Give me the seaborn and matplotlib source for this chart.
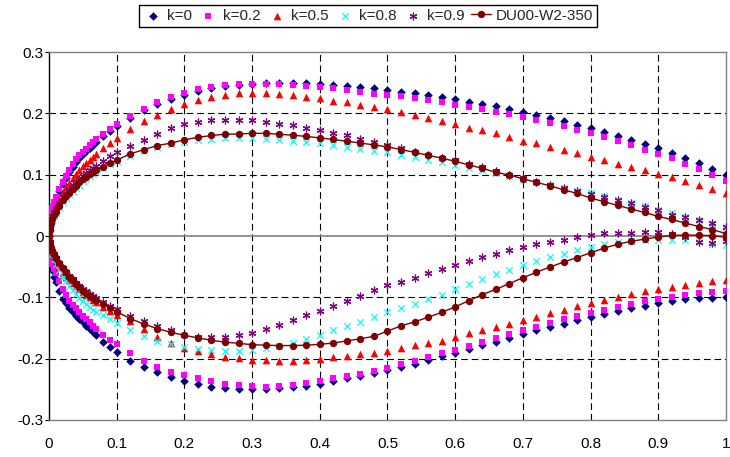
import pandas as pd
import matplotlib
matplotlib.use("Agg")
import matplotlib.pyplot as plt
import seaborn as sns

# chordwise stations (x/c), shared by every profile
x_st = [0, 0.001, 0.002, 0.0035, 0.005, 0.0075, 0.01, 0.015, 0.02, 0.025, 0.03, 0.035, 0.04,
        0.045, 0.05, 0.055, 0.06, 0.065, 0.07, 0.08, 0.09, 0.10,
        0.12, 0.14, 0.16, 0.18, 0.20, 0.22, 0.24, 0.26, 0.28, 0.30, 0.32, 0.34, 0.36,
        0.38, 0.40, 0.42, 0.44, 0.46, 0.48, 0.50, 0.52, 0.54, 0.56, 0.58, 0.60, 0.62,
        0.64, 0.66, 0.68, 0.70, 0.72, 0.74, 0.76, 0.78, 0.80, 0.82, 0.84, 0.86, 0.88,
        0.90, 0.92, 0.94, 0.96, 0.98, 1.00]

# upper surfaces (y/c)
k0_up = [0, 0.019, 0.028, 0.036, 0.043, 0.052, 0.060, 0.073, 0.085, 0.095, 0.104, 0.113, 0.121,
         0.127, 0.133, 0.1385, 0.144, 0.149, 0.154, 0.163, 0.171, 0.179,
         0.193, 0.205, 0.215, 0.223, 0.230, 0.236, 0.241, 0.2445, 0.247, 0.2485, 0.249, 0.2495, 0.2495,
         0.249, 0.248, 0.2465, 0.245, 0.243, 0.241, 0.238, 0.2355, 0.233, 0.230, 0.2265, 0.223, 0.219,
         0.2155, 0.2115, 0.207, 0.2025, 0.198, 0.193, 0.187, 0.1815, 0.176, 0.170, 0.163, 0.157, 0.150,
         0.1435, 0.135, 0.127, 0.119, 0.110, 0.100]
k02_up = [0, 0.021, 0.030, 0.038, 0.045, 0.055, 0.063, 0.076, 0.088, 0.098, 0.108, 0.117, 0.126,
          0.132, 0.137, 0.1425, 0.148, 0.153, 0.158, 0.166, 0.174, 0.182,
          0.196, 0.208, 0.218, 0.226, 0.233, 0.239, 0.2435, 0.246, 0.2476, 0.248, 0.248, 0.2475, 0.2468,
          0.2455, 0.2435, 0.241, 0.238, 0.235, 0.232, 0.2305, 0.228, 0.225, 0.2215, 0.218, 0.214, 0.210,
          0.207, 0.203, 0.199, 0.194, 0.189, 0.184, 0.179, 0.173, 0.168, 0.162, 0.155, 0.149, 0.141,
          0.134, 0.127, 0.118, 0.109, 0.100, 0.090]
k05_up = [0, 0.015, 0.022, 0.029, 0.036, 0.043, 0.050, 0.061, 0.072, 0.080, 0.087, 0.094, 0.1016,
          0.108, 0.114, 0.119, 0.124, 0.129, 0.134, 0.143, 0.152, 0.1595,
          0.175, 0.187, 0.197, 0.207, 0.215, 0.222, 0.227, 0.2303, 0.2325, 0.233, 0.2328, 0.2318, 0.230,
          0.227, 0.2248, 0.221, 0.218, 0.214, 0.2105, 0.2065, 0.202, 0.1968, 0.192, 0.1877, 0.182, 0.177,
          0.1725, 0.1675, 0.162, 0.1555, 0.151, 0.1455, 0.1405, 0.135, 0.129, 0.124, 0.118, 0.1123, 0.107,
          0.1005, 0.0955, 0.089, 0.083, 0.0766, 0.0708]
k08_up = [0, 0.010, 0.015, 0.021, 0.026, 0.032, 0.038, 0.047, 0.055, 0.062, 0.068, 0.074, 0.079,
          0.084, 0.089, 0.0935, 0.098, 0.1015, 0.105, 0.111, 0.117, 0.122,
          0.131, 0.139, 0.145, 0.150, 0.154, 0.157, 0.159, 0.160, 0.160, 0.1595, 0.158, 0.1565, 0.155,
          0.1528, 0.1512, 0.1483, 0.1453, 0.1427, 0.139, 0.1368, 0.132, 0.1288, 0.1248, 0.1205, 0.1155, 0.1112,
          0.1075, 0.1025, 0.0975, 0.0935, 0.0885, 0.0835, 0.0785, 0.0735, 0.0695, 0.0645, 0.059, 0.0533, 0.0484,
          0.0424, 0.037, 0.0315, 0.0255, 0.0203, 0.014]
k09_up = [0, 0.014, 0.020, 0.026, 0.032, 0.039, 0.045, 0.054, 0.063, 0.070, 0.077, 0.083, 0.088,
          0.093, 0.098, 0.1025, 0.107, 0.111, 0.115, 0.122, 0.130, 0.137,
          0.147, 0.156, 0.166, 0.176, 0.182, 0.186, 0.1885, 0.190, 0.190, 0.1895, 0.1865, 0.1835, 0.1805,
          0.1765, 0.1725, 0.168, 0.164, 0.1588, 0.154, 0.149, 0.143, 0.1375, 0.132, 0.1275, 0.1235, 0.118,
          0.1125, 0.106, 0.100, 0.0945, 0.0885, 0.083, 0.0785, 0.0738, 0.0687, 0.063, 0.058, 0.0533, 0.0475,
          0.0425, 0.035, 0.0303, 0.0255, 0.0205, 0.015]
du_up = [0, 0.010, 0.015, 0.021, 0.0275, 0.034, 0.040, 0.049, 0.058, 0.065, 0.071, 0.0765, 0.082,
         0.0875, 0.093, 0.097, 0.101, 0.104, 0.107, 0.113, 0.1185, 0.1237,
         0.134, 0.141, 0.1476, 0.1515, 0.157, 0.161, 0.164, 0.166, 0.1665, 0.1675, 0.1675, 0.166, 0.1645,
         0.1625, 0.160, 0.1575, 0.1545, 0.1518, 0.1485, 0.1455, 0.141, 0.1365, 0.1318, 0.127, 0.122, 0.116,
         0.1105, 0.104, 0.0995, 0.0935, 0.0875, 0.082, 0.0755, 0.0695, 0.062, 0.056, 0.050, 0.044, 0.0384,
         0.032, 0.027, 0.021, 0.0155, 0.0105, 0.004]

# lower surfaces (y/c)
k0_lo = [0, -0.024, -0.035, -0.046, -0.055, -0.066, -0.075, -0.090, -0.102, -0.110, -0.118, -0.124, -0.130,
         -0.1355, -0.141, -0.1465, -0.152, -0.157, -0.162, -0.172, -0.181, -0.189,
         -0.203, -0.214, -0.2225, -0.230, -0.2365, -0.2415, -0.2455, -0.248, -0.2495, -0.250, -0.2495, -0.248, -0.2465,
         -0.244, -0.2405, -0.2365, -0.232, -0.228, -0.2235, -0.2185, -0.2135, -0.208, -0.2025, -0.1955, -0.190, -0.1835,
         -0.178, -0.172, -0.166, -0.1595, -0.154, -0.149, -0.1435, -0.137, -0.132, -0.127, -0.122, -0.118, -0.1135,
         -0.1085, -0.1055, -0.103, -0.1015, -0.1005, -0.099]
k02_lo = [0, -0.021, -0.030, -0.038, -0.045, -0.053, -0.060, -0.074, -0.086, -0.096, -0.106, -0.112, -0.118,
          -0.124, -0.130, -0.1355, -0.141, -0.1465, -0.152, -0.162, -0.1695, -0.176,
          -0.190, -0.2035, -0.2135, -0.2215, -0.2265, -0.2315, -0.237, -0.2405, -0.2435, -0.2448, -0.2455, -0.2445, -0.2428,
          -0.240, -0.2365, -0.232, -0.228, -0.2245, -0.2195, -0.215, -0.209, -0.2035, -0.198, -0.1915, -0.1855, -0.179,
          -0.173, -0.1665, -0.160, -0.154, -0.1478, -0.1415, -0.136, -0.131, -0.1252, -0.1203, -0.1152, -0.1102, -0.106,
          -0.1022, -0.0987, -0.0955, -0.093, -0.0915, -0.0902]
k05_lo = [0, -0.012, -0.018, -0.024, -0.030, -0.036, -0.042, -0.051, -0.060, -0.066, -0.072, -0.077, -0.082,
          -0.0865, -0.091, -0.0955, -0.100, -0.104, -0.108, -0.115, -0.122, -0.128,
          -0.1385, -0.151, -0.164, -0.1745, -0.182, -0.187, -0.192, -0.1965, -0.199, -0.2015, -0.2025, -0.203, -0.203,
          -0.2025, -0.2005, -0.198, -0.1955, -0.1925, -0.190, -0.187, -0.1832, -0.1785, -0.175, -0.1705, -0.1645, -0.1585,
          -0.153, -0.1485, -0.143, -0.137, -0.1315, -0.126, -0.120, -0.1137, -0.1085, -0.104, -0.100, -0.094, -0.0895,
          -0.086, -0.0825, -0.0795, -0.0765, -0.0735, -0.0717]
k08_lo = [0, -0.012, -0.018, -0.024, -0.030, -0.038, -0.045, -0.056, -0.066, -0.074, -0.082, -0.0885, -0.095,
          -0.1005, -0.106, -0.111, -0.116, -0.120, -0.1235, -0.1295, -0.1355, -0.1415,
          -0.153, -0.1625, -0.171, -0.1765, -0.1815, -0.184, -0.186, -0.1872, -0.1875, -0.1855, -0.183, -0.1795, -0.175,
          -0.168, -0.1615, -0.1538, -0.1475, -0.1405, -0.1325, -0.1245, -0.118, -0.111, -0.1028, -0.0955, -0.086, -0.0782,
          -0.0705, -0.0625, -0.0555, -0.048, -0.0412, -0.0347, -0.0288, -0.0232, -0.0175, -0.0123, -0.009, -0.0074, -0.006,
          -0.0058, -0.0065, -0.0072, -0.0095, -0.0128, -0.0147]
k09_lo = [0, -0.010, -0.014, -0.019, -0.024, -0.030, -0.035, -0.044, -0.052, -0.059, -0.065, -0.0705, -0.076,
          -0.081, -0.086, -0.090, -0.094, -0.0975, -0.101, -0.108, -0.114, -0.1195,
          -0.130, -0.139, -0.147, -0.153, -0.161, -0.1645, -0.1645, -0.1642, -0.1615, -0.1575, -0.152, -0.145, -0.137,
          -0.1295, -0.1217, -0.1137, -0.1054, -0.097, -0.0887, -0.0805, -0.0745, -0.068, -0.061, -0.054, -0.047, -0.041,
          -0.0345, -0.0285, -0.0223, -0.0175, -0.0127, -0.0092, -0.006, -0.0012, 0.002, 0.0047, 0.0054, 0.0054, 0.007,
          0.0065, 0.0035, -0.0015, -0.009, -0.011, -0.008]
du_lo = [0, -0.010, -0.014, -0.019, -0.024, -0.030, -0.035, -0.044, -0.052, -0.059, -0.066, -0.072, -0.078,
         -0.0835, -0.089, -0.093, -0.097, -0.1005, -0.104, -0.111, -0.1175, -0.1235,
         -0.1345, -0.1435, -0.151, -0.157, -0.162, -0.166, -0.170, -0.173, -0.175, -0.1772, -0.178, -0.1786, -0.1786,
         -0.178, -0.1766, -0.1745, -0.171, -0.1675, -0.1635, -0.155, -0.1465, -0.140, -0.1325, -0.1245, -0.1155, -0.1055,
         -0.0955, -0.087, -0.0775, -0.068, -0.059, -0.0505, -0.0425, -0.035, -0.0275, -0.0195, -0.0135, -0.0085, -0.005,
         -0.0015, 0.001, 0.0016, 0.0015, 0.0005, -0.002]

x_ticks = [0, 0.1, 0.2, 0.3, 0.4, 0.5, 0.6, 0.7, 0.8, 0.9, 1.0]
x_tick_labels = ["0", "0.1", "0.2", "0.3", "0.4", "0.5", "0.6", "0.7", "0.8", "0.9", "1"]
y_ticks = [-0.3, -0.2, -0.1, 0, 0.1, 0.2, 0.3]
y_tick_labels = ["-0.3", "-0.2", "-0.1", "0", "0.1", "0.2", "0.3"]

sns.set_theme(style="white")
plt.rcParams["font.family"] = ["Liberation Sans", "DejaVu Sans"]

fig, ax = plt.subplots(figsize=(7.3, 4.57), dpi=100)
fig.subplots_adjust(left=0.0671, right=0.9945, top=0.886, bottom=0.081)

# scatter profiles: label, upper, lower, marker, colour, size
profiles = [
    ("k=0", k0_up, k0_lo, "D", "#000080", 19),
    ("k=0.2", k02_up, k02_lo, "s", "#FF00FF", 25),
    ("k=0.5", k05_up, k05_lo, "^", "#FF0000", 30),
    ("k=0.8", k08_up, k08_lo, "x", "#00FFFF", 22),
    ("k=0.9", k09_up, k09_lo, (6, 2, 0), "#800080", 24),
]
for label, up, lo, mk, col, size in profiles:
    df = pd.DataFrame({"x": x_st + x_st, "y": up + lo})
    unfilled = mk == "x" or isinstance(mk, tuple)
    sns.scatterplot(data=df, x="x", y="y", marker=mk, color=col, s=size,
                    linewidth=0.9 if unfilled else 0, label=label, ax=ax,
                    zorder=3, legend=False)

# DU00-W2-350: one closed path, TE -> LE along upper, LE -> TE along lower
du_df = pd.DataFrame({"x": x_st[::-1] + x_st[1:], "y": du_up[::-1] + du_lo[1:]})
sns.lineplot(data=du_df, x="x", y="y", sort=False, estimator=None, errorbar=None,
             color="#800000", linewidth=1.0, marker="o", markersize=5.3, markeredgewidth=0,
             label="DU00-W2-350", ax=ax, zorder=4)

ax.set_xlim(0, 1)
ax.set_ylim(-0.3, 0.3)
ax.set_xticks(x_ticks)
ax.set_xticklabels(x_tick_labels)
ax.set_yticks(y_ticks)
ax.set_yticklabels(y_tick_labels)
ax.set_xlabel("")
ax.set_ylabel("")
ax.tick_params(axis="both", labelsize=11, colors="black")
ax.tick_params(axis="y", length=3, width=0.8, pad=1, left=True)
ax.tick_params(axis="x", length=0, pad=12)

# dashed grid, skipping lines that sit on the frame or the zero axis
ax.grid(True, color="black", linestyle=(0, (6, 3.5)), linewidth=0.8)
for gl, v in zip(ax.get_xgridlines(), x_ticks):
    if v in (0, 1.0):
        gl.set_visible(False)
for gl, v in zip(ax.get_ygridlines(), y_ticks):
    if v in (-0.3, 0, 0.3):
        gl.set_visible(False)
ax.axhline(0, color="#808080", linewidth=1.2, zorder=2)

for side in ["top", "right", "bottom"]:
    ax.spines[side].set_color("#808080")
    ax.spines[side].set_linewidth(1.0)
ax.spines["left"].set_color("black")
ax.spines["left"].set_linewidth(1.0)

handles, labels = ax.get_legend_handles_labels()
if ax.get_legend() is not None:
    ax.get_legend().remove()
leg = fig.legend(handles, labels, loc="upper center", bbox_to_anchor=(0.504, 0.989), ncol=6,
                 fontsize=11, frameon=True, fancybox=False, framealpha=1, edgecolor="black",
                 handlelength=1.3, handletextpad=0.3, columnspacing=0.4, borderpad=0.25,
                 borderaxespad=0, scatterpoints=1)
leg.get_frame().set_linewidth(1.0)

fig.savefig("out.png", dpi=100)
